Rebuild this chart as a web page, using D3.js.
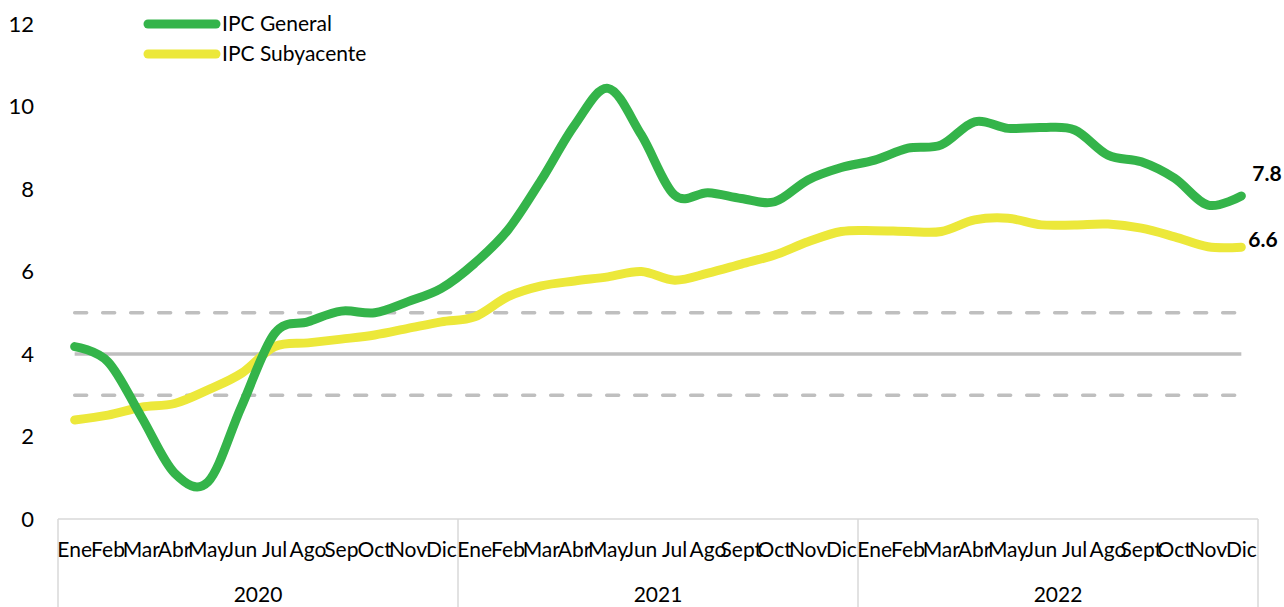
<!DOCTYPE html>
<html><head><meta charset="utf-8">
<script src="https://cdn.jsdelivr.net/npm/d3@7"></script>
<style>body{margin:0;background:#fff;} text{font-family:Lato,"Open Sans",sans-serif;fill:#000;}</style>
</head><body>
<svg id="c" width="1284" height="607"></svg>
<script>
const years = ["2020","2021","2022"];
const months2020 = ["Ene","Feb","Mar","Abr","May","Jun","Jul","Ago","Sep","Oct","Nov","Dic"];
const months2021 = ["Ene","Feb","Mar","Abr","May","Jun","Jul","Ago","Sept","Oct","Nov","Dic"];
const months2022 = ["Ene","Feb","Mar","Abr","May","Jun","Jul","Ago","Sept","Oct","Nov","Dic"];
const ipcGeneral = [4.18,3.81,2.48,1.11,0.90,2.72,4.50,4.78,5.04,5.00,5.27,5.59,
                    6.20,7.01,8.22,9.55,10.44,9.31,7.85,7.91,7.77,7.69,8.22,8.52,
                    8.70,8.99,9.07,9.63,9.47,9.49,9.43,8.82,8.66,8.26,7.61,7.83];
const ipcSubyacente = [2.40,2.52,2.71,2.80,3.13,3.53,4.18,4.27,4.36,4.46,4.62,4.78,
                       4.90,5.39,5.65,5.77,5.87,6.00,5.79,5.96,6.18,6.40,6.72,6.97,
                       6.99,6.97,6.97,7.25,7.29,7.13,7.13,7.15,7.05,6.84,6.60,6.59];
const metaCentral = 4, metaSup = 5, metaInf = 3;
const yTicks = [0,2,4,6,8,10,12];
const labelGeneral = "7.8", labelSub = "6.6";

const monthLists = [months2020, months2021, months2022];
const cats = [];
monthLists.forEach((ml,yi)=>ml.forEach((m,mi)=>cats.push({key:years[yi]+"-"+mi, m, y:years[yi]})));

const svg = d3.select("#c");
const L = 58, R = 1258, T = 24, B = 519;
const x = d3.scaleBand().domain(cats.map(d=>d.key)).range([L,R]);
const y = d3.scaleLinear().domain([0,12]).range([B,T]);
const cx = k => x(k) + x.bandwidth()/2;

// y tick labels
svg.append("g").selectAll("text").data(yTicks).join("text")
  .attr("x",34).attr("y",d=>y(d)).attr("dy","0.35em").attr("text-anchor","end")
  .style("font-size","22px").text(d=>d);

// axis frame
const axisCol = "#d9d9d9";
svg.append("line").attr("x1",L).attr("x2",R).attr("y1",B).attr("y2",B).attr("stroke",axisCol).attr("stroke-width",1.5);
const sepIdx = [0,12,24,36];
svg.append("g").selectAll("line").data(sepIdx).join("line")
  .attr("x1",d=>d===36?R:x(cats[d].key)).attr("x2",d=>d===36?R:x(cats[d].key))
  .attr("y1",B).attr("y2",607).attr("stroke",axisCol).attr("stroke-width",1.5);

// month labels
svg.append("g").selectAll("text").data(cats).join("text")
  .attr("x",d=>cx(d.key)).attr("y",550).attr("dy","0.35em").attr("text-anchor","middle")
  .style("font-size","21px").text(d=>d.m);
// year labels
svg.append("g").selectAll("text").data(years).join("text")
  .attr("x",(d,i)=>(x(cats[i*12].key)+x(cats[i*12+11].key)+x.bandwidth())/2).attr("y",595).attr("dy","0.35em")
  .attr("text-anchor","middle").style("font-size","21px").text(d=>d);

// reference lines
const first = cx(cats[0].key), last = cx(cats[35].key);
const refs = [{v:metaSup,dash:true},{v:metaInf,dash:true},{v:metaCentral,dash:false}];
svg.append("g").selectAll("line").data(refs).join("line")
  .attr("x1",first).attr("x2",last).attr("y1",d=>y(d.v)).attr("y2",d=>y(d.v))
  .attr("stroke","#bfbfbf").attr("stroke-width",3.5)
  .attr("stroke-linecap",d=>d.dash?"round":"butt")
  .attr("stroke-dasharray",d=>d.dash?"12,16":null);

const line = d3.line().x((d,i)=>cx(cats[i].key)).y(d=>y(d)).curve(d3.curveCatmullRom.alpha(0));
const green = "#34b44a", yellow = "#ece83a";
svg.append("path").datum(ipcSubyacente).attr("d",line).attr("fill","none")
  .attr("stroke",yellow).attr("stroke-width",9).attr("stroke-linecap","round").attr("stroke-linejoin","round");
svg.append("path").datum(ipcGeneral).attr("d",line).attr("fill","none")
  .attr("stroke",green).attr("stroke-width",9).attr("stroke-linecap","round").attr("stroke-linejoin","round");

// end labels
svg.append("text").attr("x",last+11).attr("y",y(ipcGeneral[35])-22).attr("dy","0.35em")
  .style("font-size","21px").style("font-weight","bold").text(labelGeneral);
svg.append("text").attr("x",last+7).attr("y",y(ipcSubyacente[35])-8).attr("dy","0.35em")
  .style("font-size","21px").style("font-weight","bold").text(labelSub);

// legend
const leg = [{n:"IPC General",c:green},{n:"IPC Subyacente",c:yellow}];
const lg = svg.append("g").selectAll("g").data(leg).join("g").attr("transform",(d,i)=>`translate(0,${24+i*30})`);
lg.append("line").attr("x1",148).attr("x2",216).attr("stroke",d=>d.c).attr("stroke-width",9).attr("stroke-linecap","round");
lg.append("text").attr("x",222).attr("dy","0.35em").style("font-size","21px").text(d=>d.n);
</script>
</body></html>
